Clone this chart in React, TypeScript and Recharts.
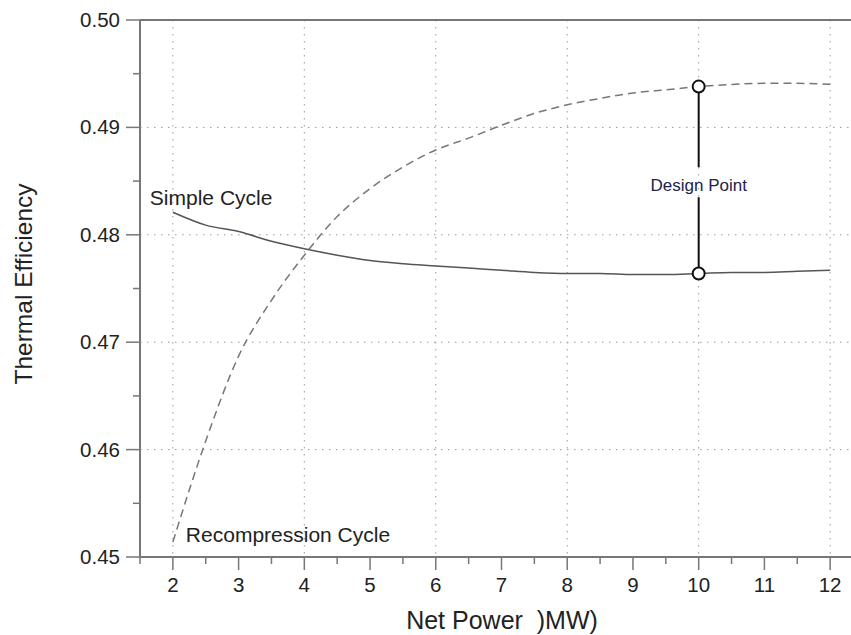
import { CartesianGrid, Label, Line, LineChart, ReferenceDot, ReferenceLine, XAxis, YAxis } from "recharts"

// Net power (MW) vs thermal efficiency for the two cycles
const netPower = [2, 2.5, 3, 3.5, 4, 4.5, 5, 5.5, 6, 6.5, 7, 7.5, 8, 8.5, 9, 9.5, 10, 10.5, 11, 11.5, 12]
const simpleCycle = [
  0.4821, 0.4809, 0.4803, 0.4794, 0.4787, 0.4781, 0.4776, 0.4773, 0.4771, 0.4769, 0.4767,
  0.4765, 0.4764, 0.4764, 0.4763, 0.4763, 0.4764, 0.4765, 0.4765, 0.4766, 0.4767,
]
const recompressionCycle = [
  0.4514, 0.4608, 0.4687, 0.4739, 0.4781, 0.4817, 0.4843, 0.4863, 0.4879, 0.489, 0.4902,
  0.4913, 0.4921, 0.4927, 0.4932, 0.4935, 0.4938, 0.494, 0.4941, 0.4941, 0.494,
]

const xTicks = [1.5, 2, 2.5, 3, 3.5, 4, 4.5, 5, 5.5, 6, 6.5, 7, 7.5, 8, 8.5, 9, 9.5, 10, 10.5, 11, 11.5, 12, 12.5]
const yTicks = [0.45, 0.455, 0.46, 0.465, 0.47, 0.475, 0.48, 0.485, 0.49, 0.495, 0.5]
const xGrid = [2, 4, 6, 8, 10, 12]
const yGrid = [0.46, 0.47, 0.48, 0.49]

const designX = 10
const designHigh = 0.4938
const designLow = 0.4764

const FONT = '"Liberation Sans", Arial, sans-serif'
const AXIS = "#777"
const INK = "#222"

const data = netPower.map((x, i) => ({ x, simple: simpleCycle[i], recomp: recompressionCycle[i] }))

function XTick(props: any) {
  const { x, y, payload } = props
  const v = payload.value as number
  const major = Math.abs(v - Math.round(v)) < 1e-6
  return (
    <g>
      <line x1={x} x2={x} y1={y} y2={y + (major ? 13 : 7)} stroke={AXIS} strokeWidth={1.5} />
      {major && (
        <text x={x} y={y + 35} textAnchor="middle" fontSize={20.5} fontFamily={FONT} fill={INK}>
          {v}
        </text>
      )}
    </g>
  )
}

function YTick(props: any) {
  const { x, y, payload } = props
  const v = payload.value as number
  const major = Math.abs(v * 100 - Math.round(v * 100)) < 1e-6
  return (
    <g>
      <line x1={x - (major ? 14 : 7)} x2={x} y1={y} y2={y} stroke={AXIS} strokeWidth={1.5} />
      {major && (
        <text x={x - 20} y={y + 7} textAnchor="end" fontSize={20.5} fontFamily={FONT} fill={INK}>
          {v.toFixed(2)}
        </text>
      )}
    </g>
  )
}

const textLabel =
  (text: string, dx: number, dy: number, size: number, anchor: "start" | "middle" = "start", fill = INK) =>
  (props: any) => {
    const vb = props.viewBox || {}
    return (
      <text
        x={vb.x + dx}
        y={vb.y + dy}
        textAnchor={anchor}
        fontSize={size}
        fontFamily={FONT}
        fill={fill}
      >
        {text}
      </text>
    )
  }

export default function App() {
  return (
    <div
      style={{
        position: "fixed",
        left: 0,
        top: 0,
        width: 851,
        height: 635,
        overflow: "hidden",
        background: "#fff",
      }}
    >
      <LineChart width={863} height={635} data={data} margin={{ top: 20, right: 0, bottom: 0, left: 0 }}>
        <CartesianGrid
          horizontalValues={yGrid}
          verticalValues={xGrid}
          stroke="#999"
          strokeDasharray="1.5 5.5"
        />
        <XAxis
          type="number"
          dataKey="x"
          domain={[1.5, 12.5]}
          ticks={xTicks}
          interval={0}
          height={78}
          tickSize={0}
          tickMargin={0}
          tickLine={false}
          axisLine={{ stroke: AXIS, strokeWidth: 2 }}
          tick={<XTick />}
          allowDataOverflow
        >
          <Label
            content={() => (
              <text
                x={502}
                y={629}
                textAnchor="middle"
                fontSize={25}
                fontFamily={FONT}
                fill={INK}
                style={{ whiteSpace: "pre" }}
              >
                {"Net Power  )MW)"}
              </text>
            )}
          />
        </XAxis>
        <YAxis
          type="number"
          domain={[0.45, 0.5]}
          ticks={yTicks}
          interval={0}
          width={140}
          tickSize={0}
          tickMargin={0}
          tickLine={false}
          axisLine={{ stroke: AXIS, strokeWidth: 2 }}
          tick={<YTick />}
          allowDataOverflow
        >
          <Label
            content={() => (
              <text
                x={32}
                y={284}
                transform="rotate(-90 32 284)"
                textAnchor="middle"
                fontSize={24.5}
                fontFamily={FONT}
                fill={INK}
              >
                Thermal Efficiency
              </text>
            )}
          />
        </YAxis>
        <ReferenceLine y={0.5} stroke={AXIS} strokeWidth={2} />
        <Line
          type="monotone"
          dataKey="simple"
          stroke="#555"
          strokeWidth={1.5}
          dot={false}
          isAnimationActive={false}
        />
        <Line
          type="monotone"
          dataKey="recomp"
          stroke="#777"
          strokeWidth={1.5}
          strokeDasharray="8 5"
          dot={false}
          isAnimationActive={false}
        />
        <ReferenceLine
          segment={[
            { x: designX, y: designHigh },
            { x: designX, y: 0.4863 },
          ]}
          stroke="#111"
          strokeWidth={2}
        />
        <ReferenceLine
          segment={[
            { x: designX, y: 0.4835 },
            { x: designX, y: designLow },
          ]}
          stroke="#111"
          strokeWidth={2}
        />
        <ReferenceDot x={designX} y={designHigh} r={6} fill="#fff" stroke="#111" strokeWidth={2} />
        <ReferenceDot x={designX} y={designLow} r={6} fill="#fff" stroke="#111" strokeWidth={2} />
        <ReferenceDot
          x={designX}
          y={0.4846}
          r={0}
          stroke="none"
          label={textLabel("Design Point", 0, 6, 17, "middle", "#22224a")}
        />
        <ReferenceDot
          x={2}
          y={simpleCycle[0]}
          r={0}
          stroke="none"
          label={textLabel("Simple Cycle", -23, -7, 21)}
        />
        <ReferenceDot
          x={2}
          y={recompressionCycle[0]}
          r={0}
          stroke="none"
          label={textLabel("Recompression Cycle", 13, 0, 21)}
        />
      </LineChart>
    </div>
  )
}
